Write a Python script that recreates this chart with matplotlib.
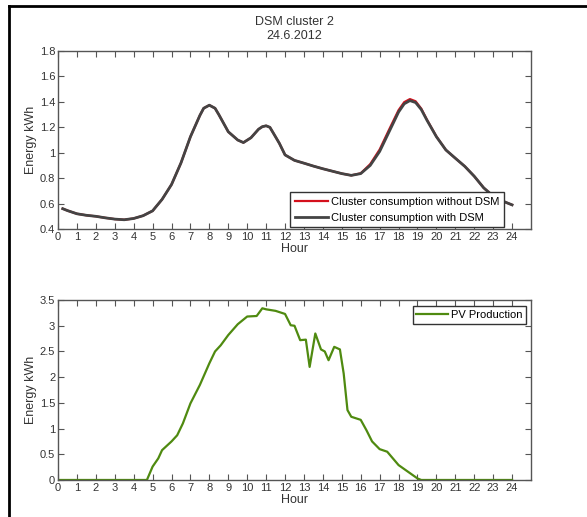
import matplotlib.pyplot as plt
from matplotlib.lines import Line2D

plt.rcParams['font.family'] = ['Liberation Sans', 'DejaVu Sans']
plt.rcParams['font.size'] = 8

# cluster consumption, kWh per hour
hours = [0.25, 0.5, 1, 1.5, 2, 2.5, 3, 3.5, 4, 4.5, 5, 5.5, 6, 6.5, 7, 7.5,
         7.7, 8.0, 8.3, 8.5, 9, 9.5, 9.8, 10.2, 10.6, 10.8, 11.0, 11.2, 11.4,
         11.7, 12, 12.5, 13, 13.5, 14, 14.5, 15, 15.5, 16, 16.5, 17, 17.5, 18,
         18.3, 18.6, 18.9, 19.2, 19.5, 20, 20.5, 21, 21.5, 22, 22.5, 23, 23.5,
         24]
with_dsm = [0.56, 0.545, 0.52, 0.508, 0.5, 0.488, 0.478, 0.473, 0.483, 0.505,
            0.543, 0.633, 0.75, 0.92, 1.126, 1.294, 1.35, 1.374, 1.35, 1.3,
            1.165, 1.1, 1.08, 1.118, 1.185, 1.205, 1.212, 1.2, 1.15, 1.074,
            0.983, 0.94, 0.918, 0.895, 0.874, 0.855, 0.836, 0.822, 0.836, 0.9,
            1.01, 1.165, 1.32, 1.385, 1.41, 1.395, 1.34, 1.256, 1.126, 1.022,
            0.957, 0.893, 0.815, 0.724, 0.659, 0.62, 0.59]
without_dsm = [0.56, 0.545, 0.52, 0.508, 0.5, 0.488, 0.478, 0.473, 0.483,
               0.505, 0.543, 0.633, 0.75, 0.92, 1.126, 1.294, 1.35, 1.374,
               1.35, 1.3, 1.165, 1.1, 1.08, 1.118, 1.185, 1.205, 1.212, 1.2,
               1.15, 1.074, 0.983, 0.94, 0.918, 0.895, 0.874, 0.855, 0.836,
               0.822, 0.838, 0.91, 1.025, 1.182, 1.335, 1.398, 1.422, 1.405,
               1.347, 1.26, 1.128, 1.022, 0.957, 0.893, 0.815, 0.724, 0.659,
               0.62, 0.59]

# PV production, kWh per hour
pv_hours = [0, 1, 2, 3, 4, 4.7, 5, 5.3, 5.5, 6, 6.3, 6.6, 7, 7.5, 8, 8.3, 8.6, 9,
            9.5, 10, 10.5, 10.8, 11, 11.5, 12, 12.3, 12.5, 12.8, 13.1, 13.3,
            13.6, 13.9, 14.1, 14.3, 14.6, 14.9, 15.1, 15.3, 15.5, 16, 16.3,
            16.6, 17, 17.4, 17.7, 18, 18.5, 19, 19.2, 20, 21, 22, 23, 24]
pv = [0, 0, 0, 0, 0, 0, 0.26, 0.42, 0.58, 0.75, 0.87, 1.1, 1.49, 1.85, 2.27,
      2.5, 2.62, 2.82, 3.03, 3.18, 3.19, 3.34, 3.32, 3.29, 3.23, 3.01, 3.0,
      2.72, 2.73, 2.2, 2.85, 2.54, 2.5, 2.33, 2.59, 2.54, 2.07, 1.36, 1.23,
      1.17, 0.97, 0.75, 0.6, 0.55, 0.42, 0.29, 0.16, 0.03, 0, 0, 0, 0, 0, 0]

top_ticks = [0.4, 0.6, 0.8, 1, 1.2, 1.4, 1.6, 1.8]
bottom_ticks = [0, 0.5, 1, 1.5, 2, 2.5, 3, 3.5]


def matlab_axes(ax, yticks):
    ax.set_xlim(0, 25)
    ax.set_xticks(range(25))
    ax.set_yticks(yticks)
    ax.set_yticklabels(['%g' % t for t in yticks])
    ax.set_ylim(yticks[0], yticks[-1])
    ax.tick_params(direction='in', top=True, right=True, length=4,
                   width=0.8, color='#555555', labelsize=8, pad=2,
                   labelcolor='#333333')
    for s in ax.spines.values():
        s.set_color('#555555')
        s.set_linewidth(1.0)
    ax.set_xlabel('Hour', fontsize=9, labelpad=1, color='#333333')
    ax.set_ylabel('Energy kWh', fontsize=9, labelpad=2, color='#333333')


fig = plt.figure(figsize=(5.87, 5.17), dpi=100)

ax1 = fig.add_axes([0.0988, 0.557, 0.8058, 0.3443])
ax1.plot(hours, without_dsm, color='#d4101c', lw=1.6, solid_joinstyle='round',
         label='Cluster consumption without DSM')
ax1.plot(hours, with_dsm, color='#444444', lw=2.0, solid_joinstyle='round',
         label='Cluster consumption with DSM')
matlab_axes(ax1, top_ticks)
ax1.set_title('DSM cluster 2\n24.6.2012', fontsize=9, pad=9, linespacing=1.15,
              color='#333333')
leg = ax1.legend(loc='lower right', bbox_to_anchor=(0.943, 0.011),
                 borderaxespad=0, fancybox=False, framealpha=1,
                 edgecolor='#333333', fontsize=8, handlelength=3,
                 handletextpad=0.3, borderpad=0.4, labelspacing=0.55)
leg.get_frame().set_linewidth(1.0)

ax2 = fig.add_axes([0.0988, 0.0716, 0.8058, 0.348])
ax2.plot(pv_hours, pv, color='#4f8a10', lw=1.6, solid_joinstyle='round',
         label='PV Production')
matlab_axes(ax2, bottom_ticks)
leg2 = ax2.legend(loc='upper right', bbox_to_anchor=(0.99, 0.967),
                  borderaxespad=0, fancybox=False, framealpha=1,
                  edgecolor='#333333', fontsize=8, handlelength=2.8,
                  handletextpad=0.3, borderpad=0.35)
leg2.get_frame().set_linewidth(1.0)

# black frame around the figure
fig.add_artist(Line2D([9 / 587, 9 / 587], [0, 1 - 6 / 517], color='black',
                      lw=2, transform=fig.transFigure))
fig.add_artist(Line2D([9 / 587, 1], [1 - 6 / 517, 1 - 6 / 517], color='black',
                      lw=2, transform=fig.transFigure))

fig.savefig('out.png', dpi=100)
